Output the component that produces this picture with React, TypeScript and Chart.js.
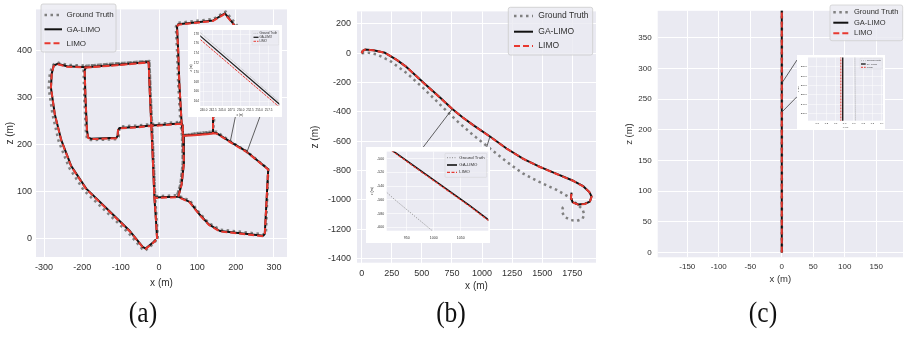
import React, { useEffect, useRef } from "react";
import { Chart, registerables } from "chart.js";

Chart.register(...registerables);

type P = [number, number];

/* ---------------- data ---------------- */
const seriesLabels = ["Ground Truth", "GA-LIMO", "LIMO"];
const panelCaptions = ["(a)", "(b)", "(c)"];
const axisTitleX = "x (m)";
const axisTitleZ = "z (m)";

// (a) urban loop
const aGroundTruth: P[] = [
  [-3, 0], [-6, 40], [-10, 87], [-14, 165], [-18, 240], [-22, 310], [-25, 377], [-110, 372], [-190, 367],
  [-197, 358], [-195, 300], [-191, 230], [-188, 212], [-178, 209], [-111, 211], [-105, 216], [-104, 230],
  [-100, 238], [-60, 240], [-20, 243], [20, 245], [57, 248], [60, 240], [61, 219], [100, 224], [141, 227],
  [144, 255], [163, 320], [203, 390], [219, 430], [214, 442], [174, 482], [141, 466], [106, 463], [48, 458],
  [44, 450], [47, 400], [50, 330], [56, 245], [60, 219], [62, 160], [56, 115], [47, 92], [80, 81], [106, 54],
  [130, 33], [159, 19], [274, 9], [279, 10], [285, 147.3], [228, 185.8], [193, 203], [150, 227], [141, 227],
  [100, 224], [61, 219], [62, 160], [56, 115], [47, 92], [20, 91], [-10, 90], [-14, 165], [-18, 240],
  [-22, 310], [-25, 377], [-110, 372], [-190, 367], [-240, 369], [-266, 374], [-278, 368], [-285, 350],
  [-288, 320], [-278, 264], [-262, 207], [-235, 151], [-196, 102], [-134, 54], [-80, 12], [-44, -22],
  [-35, -25], [-13, -10], [-6, -2],
];
const aGaLimo: P[] = [
  [-5, 0], [-8, 40], [-12, 87], [-16, 165], [-20, 240], [-24, 310], [-27, 375], [-110, 369], [-190, 364],
  [-194, 358], [-192, 300], [-188, 230], [-185, 215], [-178, 212], [-111, 214], [-108, 218], [-107, 230],
  [-103, 235], [-60, 237], [-20, 240], [20, 242], [59, 245], [62, 240], [63, 219], [100, 221], [141, 224],
  [141, 255], [160, 320], [200, 390], [216, 430], [211, 439], [172, 478], [141, 463], [106, 460], [50, 455],
  [47, 450], [50, 400], [53, 330], [59, 245], [63, 219], [65, 160], [59, 115], [50, 89], [80, 78], [106, 51],
  [130, 30], [159, 16], [272, 6], [276, 10], [285, 147], [228, 185], [193, 202], [150, 224], [141, 224],
  [100, 221], [63, 219], [65, 160], [59, 115], [50, 89], [20, 88], [-12, 87], [-16, 165], [-20, 240],
  [-24, 310], [-27, 375], [-110, 369], [-190, 364], [-240, 366], [-265, 371], [-275, 367], [-280, 350],
  [-282, 320], [-272, 264], [-255, 209], [-229, 154], [-190, 106], [-129, 58], [-76, 16], [-42, -18],
  [-35, -21], [-15, -8], [-8, -2],
];
const aLimo: P[] = [
  [-5, -1], [-8, 40], [-12, 86], [-16, 165], [-20, 239], [-24, 310], [-27, 374], [-110, 368], [-190, 363],
  [-194, 358], [-192, 300], [-188, 230], [-185, 214], [-178, 211], [-111, 213], [-108, 218], [-107, 230],
  [-103, 234], [-60, 236], [-20, 239], [20, 241], [59, 244], [62, 240], [63, 218], [100, 220], [141, 223],
  [141, 255], [160, 320], [200, 390], [216, 430], [211, 438], [172, 477], [141, 462], [106, 459], [50, 454],
  [47, 450], [50, 400], [53, 330], [59, 244], [63, 218], [65, 160], [59, 115], [50, 88], [80, 77], [106, 50],
  [130, 29], [159, 15], [272, 5], [276, 9], [284.9, 146.6], [228, 184.2], [193, 201], [150, 223], [141, 223],
  [100, 220], [63, 218], [65, 160], [59, 115], [50, 88], [20, 87], [-12, 86], [-16, 165], [-20, 239],
  [-24, 310], [-27, 374], [-110, 368], [-190, 363], [-240, 365], [-265, 370], [-275, 366], [-280, 350],
  [-282, 320], [-272, 264], [-255, 208], [-229, 153], [-190, 105], [-129, 57], [-76, 15], [-42, -19],
  [-35, -22], [-15, -9], [-8, -3],
];
const aXTicks = [-300, -200, -100, 0, 100, 200, 300];
const aYTicks = [0, 100, 200, 300, 400];
const aInsetXTicks = [240, 242.5, 245, 247.5, 250, 252.5, 255, 257.5];
const aInsetYTicks = [164, 166, 168, 170, 172, 174, 176, 178];

// (b) long drive with final loop
const bGroundTruth: P[] = [
  [0, 0], [60, 4], [125, -8], [235, -52], [374, -135], [512, -238], [651, -350], [789, -460], [927, -559],
  [1066, -650], [1204, -740], [1343, -822], [1481, -880], [1620, -932], [1730, -985], [1790, -1030],
  [1835, -1065], [1850, -1100], [1835, -1130], [1790, -1143], [1735, -1138], [1690, -1118], [1665, -1085],
  [1670, -1055], [1695, -1040],
];
const bGaLimo: P[] = [
  [0, 0], [8, 16], [28, 25], [97, 20], [194, 3], [291, -45], [374, -95], [512, -200], [651, -302],
  [753, -380], [840, -438], [927, -490], [1066, -568], [1204, -650], [1343, -720], [1481, -775], [1620, -823],
  [1758, -870], [1841, -907], [1891, -946], [1910, -977], [1896, -1012], [1855, -1027], [1800, -1032],
  [1752, -1016], [1739, -984], [1744, -951],
];
const bLimo: P[] = [
  [0, 0], [8, 16], [28, 25], [97, 20], [194, 3], [291, -45], [374, -95], [512, -201], [651, -303],
  [753, -381], [840, -439], [927, -491], [1066, -569], [1204, -651], [1343, -721], [1481, -776], [1620, -824],
  [1758, -871], [1841, -908], [1891, -947], [1910, -978], [1896, -1013], [1855, -1028], [1800, -1033],
  [1752, -1017], [1739, -985], [1744, -952],
];
const bXTicks = [0, 250, 500, 750, 1000, 1250, 1500, 1750];
const bYTicks = [200, 0, -200, -400, -600, -800, -1000, -1200, -1400];
const bInsetXTicks = [950, 1000, 1050];
const bInsetYTicks = [-500, -520, -540, -560, -580, -600];

// (c) straight drive
const cGroundTruth: P[] = [[0.11, 0], [0.11, 100], [0.12, 200], [0.11, 300], [0.11, 400]];
const cGaLimo: P[] = [[-0.02, 0], [-0.02, 100], [-0.02, 200], [-0.02, 300], [-0.02, 400]];
const cLimo: P[] = [[-0.04, 0], [-0.04, 100], [-0.04, 200], [-0.04, 300], [-0.04, 400]];
const cXTicks = [-150, -100, -50, 0, 50, 100, 150];
const cYTicks = [0, 50, 100, 150, 200, 250, 300, 350];
const cInsetXTicks = [-0.3, -0.2, -0.1, 0, 0.1, 0.2, 0.3, 0.4];
const cInsetYTicks = [230, 240, 250, 260, 270, 280];

/* ---------------- styling ---------------- */
const FONT = '"Liberation Sans", Arial, Helvetica, sans-serif';
const TEXT = "#303030";
const PLOT_BG = "#eaeaf2";
const GT_C = "#808080";
const GA_C = "#111111";
const LIMO_C = "#e8382f";
const int = (v: number) => String(Math.round(v));
const one = (v: number) => v.toFixed(1);
const captionCenters = [142.5, 451, 763];

/* ---------------- plugins ---------------- */
const panelBg = {
  id: "panelBg",
  beforeDraw(chart: any, _a: any, o: any) {
    const { ctx, chartArea: a, width, height } = chart;
    ctx.save();
    if (o && o.page) {
      ctx.fillStyle = o.page;
      ctx.fillRect(0, 0, width, height);
    }
    ctx.fillStyle = PLOT_BG;
    ctx.fillRect(a.left, a.top, a.right - a.left, a.bottom - a.top);
    ctx.restore();
  },
};

const boxLegend = {
  id: "boxLegend",
  afterDraw(chart: any, _a: any, o: any) {
    if (!o || !o.box) return;
    const ctx = chart.ctx;
    const [ox, oy] = o.origin;
    const [x0, y0, x1, y1] = o.box.map((v: number, i: number) => v - (i % 2 === 0 ? ox : oy));
    const r = o.radius;
    ctx.save();
    ctx.beginPath();
    ctx.moveTo(x0 + r, y0);
    ctx.lineTo(x1 - r, y0);
    ctx.quadraticCurveTo(x1, y0, x1, y0 + r);
    ctx.lineTo(x1, y1 - r);
    ctx.quadraticCurveTo(x1, y1, x1 - r, y1);
    ctx.lineTo(x0 + r, y1);
    ctx.quadraticCurveTo(x0, y1, x0, y1 - r);
    ctx.lineTo(x0, y0 + r);
    ctx.quadraticCurveTo(x0, y0, x0 + r, y0);
    ctx.closePath();
    ctx.fillStyle = "rgba(234,234,242,0.82)";
    ctx.fill();
    ctx.strokeStyle = "#cccccc";
    ctx.lineWidth = o.edge;
    ctx.stroke();
    chart.data.datasets.forEach((d: any, i: number) => {
      const y = o.rows[i] - oy;
      ctx.beginPath();
      ctx.setLineDash(d.borderDash || []);
      ctx.lineCap = "butt";
      ctx.strokeStyle = d.borderColor;
      ctx.lineWidth = d.borderWidth;
      ctx.moveTo(o.sample[0] - ox, y);
      ctx.lineTo(o.sample[1] - ox, y);
      ctx.stroke();
      ctx.setLineDash([]);
      ctx.fillStyle = TEXT;
      ctx.font = `${o.font}px ${FONT}`;
      ctx.textAlign = "left";
      ctx.textBaseline = "middle";
      ctx.fillText(String(d.label), o.textX - ox, y);
    });
    ctx.restore();
  },
};

const insetLinks = {
  id: "insetLinks",
  afterDatasetsDraw(chart: any, _a: any, o: any) {
    if (!o || !o.links) return;
    const { ctx, scales } = chart;
    ctx.save();
    ctx.strokeStyle = "#3a3a3a";
    ctx.lineWidth = 0.8;
    o.links.forEach((l: any) => {
      ctx.beginPath();
      ctx.moveTo(scales.x.getPixelForValue(l.from[0]), scales.y.getPixelForValue(l.from[1]));
      ctx.lineTo(l.to[0] - o.origin[0], l.to[1] - o.origin[1]);
      ctx.stroke();
    });
    ctx.restore();
  },
};

/* ---------------- panel specs (layout in page px) ---------------- */
const mainA = {
  id: "mainA", left: 0, top: 0, width: 292, height: 300, area: [36, 2, 287, 257], tick: 9, grid: 1,
  x: { min: -321, max: 334, ticks: aXTicks, fmt: int, pad: 5, title: { text: axisTitleX, size: 10, pad: 10.7 } },
  y: { min: -39.2, max: 486.6, ticks: aYTicks, fmt: int, pad: 4, title: { text: axisTitleZ, size: 10, pad: 4 } },
  series: [
    { pts: aGroundTruth, color: GT_C, width: 2.5, dash: [2.5, 3.5] },
    { pts: aGaLimo, color: GA_C, width: 2, dash: [] },
    { pts: aLimo, color: LIMO_C, width: 2, dash: [6, 3] },
  ],
  legend: { box: [41, 4, 116, 52], rows: [15, 29.3, 43.3], sample: [44.5, 62], textX: 66.5, font: 8, edge: 0.8, radius: 2 },
  links: [
    { from: [186.7, 208.9], to: [235.4, 116.7] },
    { from: [228.5, 181.4], to: [259.9, 116.7] },
  ],
};
const mainB = {
  id: "mainB", left: 292, top: 0, width: 306, height: 300, area: [357, 2, 596, 262.7], tick: 9, grid: 1,
  x: { min: -39, max: 1947, ticks: bXTicks, fmt: int, pad: 5, title: { text: axisTitleX, size: 10, pad: 7.3 } },
  y: { min: -1429, max: 285.5, ticks: bYTicks, fmt: int, pad: 6, title: { text: axisTitleZ, size: 10, pad: 17 } },
  series: [
    { pts: bGroundTruth, color: GT_C, width: 2.5, dash: [2.5, 3.5] },
    { pts: bGaLimo, color: GA_C, width: 2, dash: [] },
    { pts: bLimo, color: LIMO_C, width: 2, dash: [6, 3] },
  ],
  legend: { box: [508.3, 7.3, 592.7, 55], rows: [16, 31.7, 46], sample: [514, 533], textX: 538.3, font: 8.5, edge: 0.8, radius: 2 },
  links: [
    { from: [753, -380], to: [423.3, 147] },
    { from: [1066, -568], to: [486.7, 147] },
  ],
};
const mainC = {
  id: "mainC", left: 598, top: 0, width: 306, height: 300, area: [657.7, 2, 903, 257.3], tick: 8, grid: 1,
  x: { min: -197, max: 192.4, ticks: cXTicks, fmt: int, pad: 5, title: { text: axisTitleX, size: 9.5, pad: 15 } },
  y: { min: -7.9, max: 394.1, ticks: cYTicks, fmt: int, pad: 6, title: { text: axisTitleZ, size: 9.5, pad: 25.3 } },
  series: [
    { pts: cGroundTruth, color: GT_C, width: 2.5, dash: [2.5, 3.5] },
    { pts: cGaLimo, color: GA_C, width: 2, dash: [] },
    { pts: cLimo, color: LIMO_C, width: 2, dash: [6, 3] },
  ],
  legend: { box: [830, 5, 902.7, 40.7], rows: [12.3, 22.7, 33.3], sample: [833.3, 848.3], textX: 854, font: 7.5, edge: 0.7, radius: 2 },
  links: [
    { from: [0, 276], to: [797, 60] },
    { from: [0, 228.8], to: [797, 96.7] },
  ],
};
const insetA = {
  id: "insetA", left: 188, top: 25, width: 94, height: 92, area: [200.3, 30, 279.3, 106], tick: 3, grid: 0.5, page: "#ffffff",
  x: { min: 239.1, max: 260.4, ticks: aInsetXTicks, fmt: one, pad: 2, title: { text: axisTitleX, size: 3, pad: 0.5 } },
  y: { min: 163.0, max: 178.85, ticks: aInsetYTicks, fmt: int, pad: 1.5, title: { text: axisTitleZ, size: 3, pad: 1.5 } },
  series: [
    { pts: aGroundTruth, color: "#b4b4b4", width: 0.8, dash: [1, 0.8] },
    { pts: aGaLimo, color: "#222222", width: 1.3, dash: [] },
    { pts: aLimo, color: LIMO_C, width: 1, dash: [2.5, 1] },
  ],
  legend: { box: [252, 31, 278.7, 45], rows: [33.3, 37.3, 41.3], sample: [253.5, 258.5], textX: 259.5, font: 3, edge: 0.3, radius: 0.6 },
};
const insetB = {
  id: "insetB", left: 366, top: 147, width: 124, height: 96, area: [386.7, 150, 488.3, 230.7], tick: 3.5, grid: 0.6, page: "#ffffff",
  x: { min: 913, max: 1101, ticks: bInsetXTicks, fmt: int, pad: 5, title: null },
  y: { min: -604.9, max: -489.6, ticks: bInsetYTicks, fmt: int, pad: 2.5, title: { text: axisTitleZ, size: 3.5, pad: 3.6 } },
  series: [
    { pts: bGroundTruth, color: "#8c8c8c", width: 1, dash: [1, 1.5] },
    { pts: bGaLimo, color: GA_C, width: 1.6, dash: [] },
    { pts: bLimo, color: LIMO_C, width: 1.2, dash: [3, 1.5] },
  ],
  legend: { box: [445, 153.3, 486.7, 177.3], rows: [157.7, 165, 172.3], sample: [447, 457], textX: 459.3, font: 4.3, edge: 0.4, radius: 0.8 },
};
const insetC = {
  id: "insetC", left: 797, top: 55, width: 88, height: 75, area: [808, 56.7, 883, 120.7], tick: 2.5, grid: 0.5, page: "#ffffff",
  x: { min: -0.394, max: 0.414, ticks: cInsetXTicks, fmt: one, pad: 1.5, title: { text: axisTitleX, size: 2.5, pad: 0.8 } },
  y: { min: 222.2, max: 289.8, ticks: cInsetYTicks, fmt: one, pad: 1, title: { text: axisTitleZ, size: 2.5, pad: 0 } },
  series: [
    { pts: cGroundTruth, color: "#a0a0a0", width: 0.8, dash: [1, 1] },
    { pts: cGaLimo, color: "#222222", width: 1.4, dash: [] },
    { pts: cLimo, color: LIMO_C, width: 1, dash: [2, 1] },
  ],
  legend: { box: [860, 58.3, 882.3, 69], rows: [60.7, 64, 67.3], sample: [861, 865.7], textX: 866.7, font: 2.4, edge: 0.3, radius: 0.5 },
};
const panels = [mainA, mainB, mainC, insetA, insetB, insetC];

/* ---------------- chart factory ---------------- */
function makeChart(canvas: HTMLCanvasElement, s: any) {
  const [al, at, ar, ab] = s.area;
  const aL = al - s.left;
  const aT = at - s.top;
  const aR = ar - s.left;
  const aB = ab - s.top;
  const datasets = s.series.map((sr: any, i: number) => ({
    label: seriesLabels[i],
    data: sr.pts.map(([x, y]: P) => ({ x, y })),
    borderColor: sr.color,
    backgroundColor: sr.color,
    borderWidth: sr.width,
    borderDash: sr.dash,
    borderCapStyle: "butt",
    borderJoinStyle: "round",
    pointRadius: 0,
    pointHoverRadius: 0,
    pointHitRadius: 0,
    tension: 0,
    fill: false,
    order: s.series.length - i,
  }));
  const axis = (a: any, horizontal: boolean) => ({
    type: "linear",
    position: horizontal ? "bottom" : "left",
    min: a.min,
    max: a.max,
    afterBuildTicks: (sc: any) => {
      sc.ticks = a.ticks.map((v: number) => ({ value: v }));
    },
    afterFit: (sc: any) => {
      if (horizontal) sc.height = s.height - aB;
      else sc.width = aL;
    },
    grid: { color: "#ffffff", lineWidth: s.grid, drawTicks: false },
    border: { display: false },
    ticks: {
      autoSkip: false,
      maxRotation: 0,
      minRotation: 0,
      padding: a.pad,
      color: TEXT,
      font: { family: FONT, size: s.tick },
      callback: (v: any) => a.fmt(Number(v)),
    },
    title: a.title
      ? {
          display: true,
          text: a.title.text,
          color: TEXT,
          font: { family: FONT, size: a.title.size },
          padding: horizontal ? { top: 0, bottom: a.title.pad } : { top: a.title.pad, bottom: 0 },
        }
      : { display: false },
  });
  return new Chart(canvas, {
    type: "line",
    data: { datasets },
    options: {
      animation: false,
      responsive: false,
      maintainAspectRatio: false,
      devicePixelRatio: 1,
      events: [],
      layout: { padding: { left: 0, top: aT, right: s.width - aR, bottom: 0 } },
      plugins: {
        legend: { display: false },
        tooltip: { enabled: false },
        panelBg: { page: s.page || null },
        boxLegend: { ...s.legend, origin: [s.left, s.top] },
        insetLinks: s.links ? { links: s.links, origin: [s.left, s.top] } : {},
      },
      scales: { x: axis(s.x, true), y: axis(s.y, false) },
    },
    plugins: [panelBg, boxLegend, insetLinks],
  } as any);
}

function ChartBox({ spec }: { spec: any }) {
  const ref = useRef<HTMLCanvasElement>(null);
  useEffect(() => {
    if (!ref.current) return;
    const chart = makeChart(ref.current, spec);
    return () => chart.destroy();
  }, [spec]);
  return (
    <canvas
      ref={ref}
      width={spec.width}
      height={spec.height}
      style={{ position: "absolute", left: spec.left, top: spec.top, width: spec.width, height: spec.height }}
    />
  );
}

export default function App() {
  return (
    <div
      style={{
        position: "fixed",
        left: 0,
        top: 0,
        width: 904,
        height: 337,
        background: "#ffffff",
        overflow: "hidden",
      }}
    >
      {panels.map((p) => (
        <ChartBox key={p.id} spec={p} />
      ))}
      {panelCaptions.map((t, i) => (
        <div
          key={t}
          style={{
            position: "absolute",
            left: captionCenters[i] - 40,
            width: 80,
            top: 296,
            textAlign: "center",
            fontFamily: '"Liberation Serif", "Times New Roman", serif',
            fontSize: 30,
            lineHeight: "32px",
            color: "#111",
            transform: "scaleX(0.85)",
          }}
        >
          {t}
        </div>
      ))}
    </div>
  );
}
